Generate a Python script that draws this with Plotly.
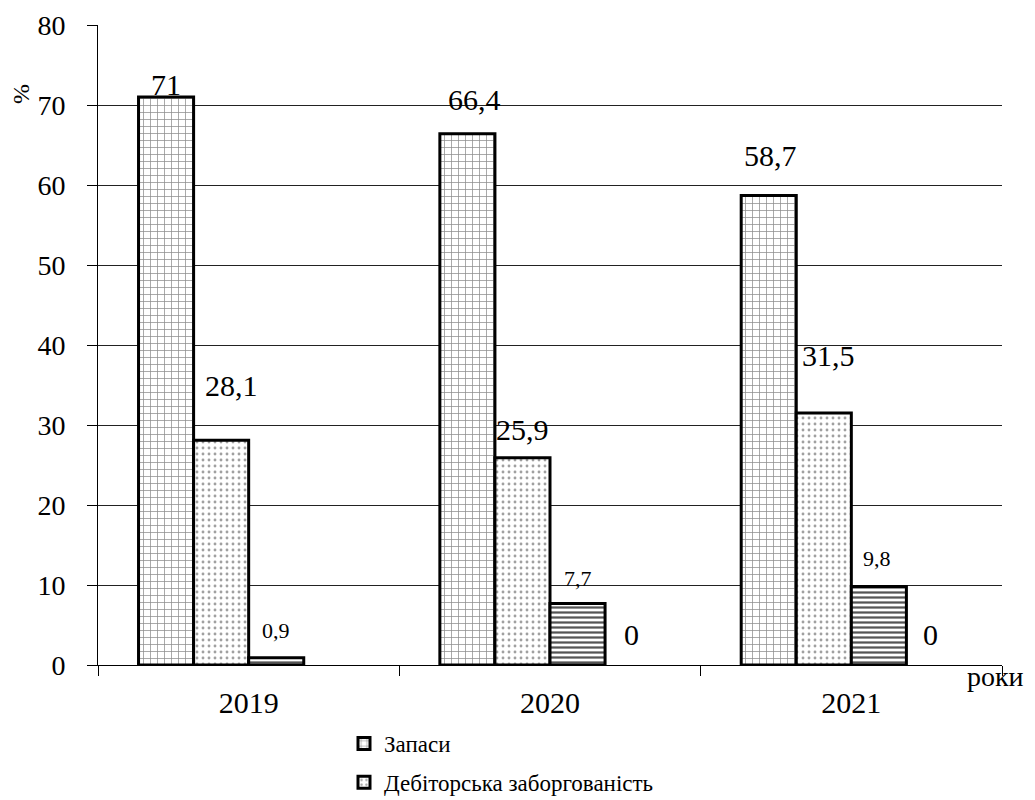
import plotly.graph_objects as go

# ---- data ----
years = ["2019", "2020", "2021"]
series_names = ["Запаси", "Дебіторська заборгованість", "Грошові кошти", "Інші оборотні активи"]
zapasy = [71, 66.4, 58.7]
debitorska = [28.1, 25.9, 31.5]
groshovi = [0.9, 7.7, 9.8]
inshi = [None, 0, 0]
y_ticks = [0, 10, 20, 30, 40, 50, 60, 70, 80]

all_series = [zapasy, debitorska, groshovi, inshi]

# ---- styles ----
FONT = "Liberation Serif"
patterns = [
    dict(shape="+", fgcolor="#8c8c8c", bgcolor="white", size=7, solidity=0.2),
    dict(shape=".", fgcolor="#a0a0a0", bgcolor="white", size=6, solidity=0.18),
    dict(shape="-", fgcolor="#555555", bgcolor="white", size=5, solidity=0.45),
    dict(shape="", fgcolor="black", bgcolor="white"),
]
outline_w = [3, 3, 3, 0]
show_in_legend = [True, True, False, False]
label_sizes = [30, 30, 22, 30]
# pixel lift of each label centre above its bar top, and horizontal nudge
label_lift = [[13, 34, 40], [55, 28, 58], [27, 25, 28], [None, 31, 31]]
label_dx = [[0, 7, 2], [10, 0, 5], [0, 0, -2], [0, -1, -3]]

bargap = 0.269
n = len(all_series)
bar_w = (1 - bargap) / n

W, H = 1035, 800
ml, mr, mt, mb = 98, 33, 25, 135
pw, ph = W - ml - mr, H - mt - mb

fig = go.Figure()
for j, (name, vals) in enumerate(zip(series_names, all_series)):
    fig.add_trace(go.Bar(
        x=years, y=vals, name=name,
        legendgroup=f"g{j}",
        showlegend=show_in_legend[j],
        marker=dict(color="white", pattern=patterns[j],
                    line=dict(color="black", width=outline_w[j])),
    ))

annotations = []
for j, vals in enumerate(all_series):
    for i, v in enumerate(vals):
        if v is None:
            continue
        xc = i - (1 - bargap) / 2 + bar_w * (j + 0.5)
        annotations.append(dict(
            x=xc, y=v, xref="x", yref="y",
            text=f"{v:g}".replace(".", ","),
            showarrow=False, yanchor="middle", xanchor="center",
            yshift=label_lift[j][i], xshift=label_dx[j][i],
            font=dict(family=FONT, size=label_sizes[j], color="black"),
        ))

annotations.append(dict(
    x=(21 - ml) / pw, y=(H - mb - 94) / ph, xref="paper", yref="paper",
    text="%", showarrow=False, textangle=-90,
    xanchor="center", yanchor="middle",
    font=dict(family=FONT, size=24, color="black"),
))
annotations.append(dict(
    x=1, y=0, xref="paper", yref="paper", text="роки", showarrow=False,
    xanchor="left", yanchor="middle", xshift=-37, yshift=-11,
    font=dict(family=FONT, size=28, color="black"),
))

fig.update_layout(
    template="none",
    width=W, height=H,
    margin=dict(l=ml, r=mr, t=mt, b=mb, autoexpand=False),
    paper_bgcolor="white", plot_bgcolor="white",
    barmode="group", bargap=bargap, bargroupgap=0,
    font=dict(family=FONT, size=24, color="black"),
    annotations=annotations,
    legend=dict(
        x=(344 - ml) / pw, y=(H - mb - 722) / ph, xanchor="left", yanchor="top",
        font=dict(family=FONT, size=23, color="black"),
        traceorder="grouped", tracegroupgap=6,
        bgcolor="rgba(0,0,0,0)", borderwidth=0,
    ),
    yaxis=dict(
        range=[0, 80], tickvals=y_ticks, showgrid=True, gridcolor="#222", gridwidth=1,
        zeroline=True, zerolinecolor="#000", zerolinewidth=1,
        showline=True, linecolor="#000", linewidth=1,
        ticks="outside", ticklen=10, tickcolor="#000", ticklabelstandoff=16,
        tickfont=dict(family=FONT, size=28, color="black"),
    ),
    xaxis=dict(
        type="category",
        showgrid=False, zeroline=False,
        showline=True, linecolor="#000", linewidth=1,
        ticks="outside", ticklen=10, tickcolor="#000", tickson="boundaries",
        ticklabelstandoff=11,
        tickfont=dict(family=FONT, size=30, color="black"),
    ),
)

fig.write_html("out.html")
